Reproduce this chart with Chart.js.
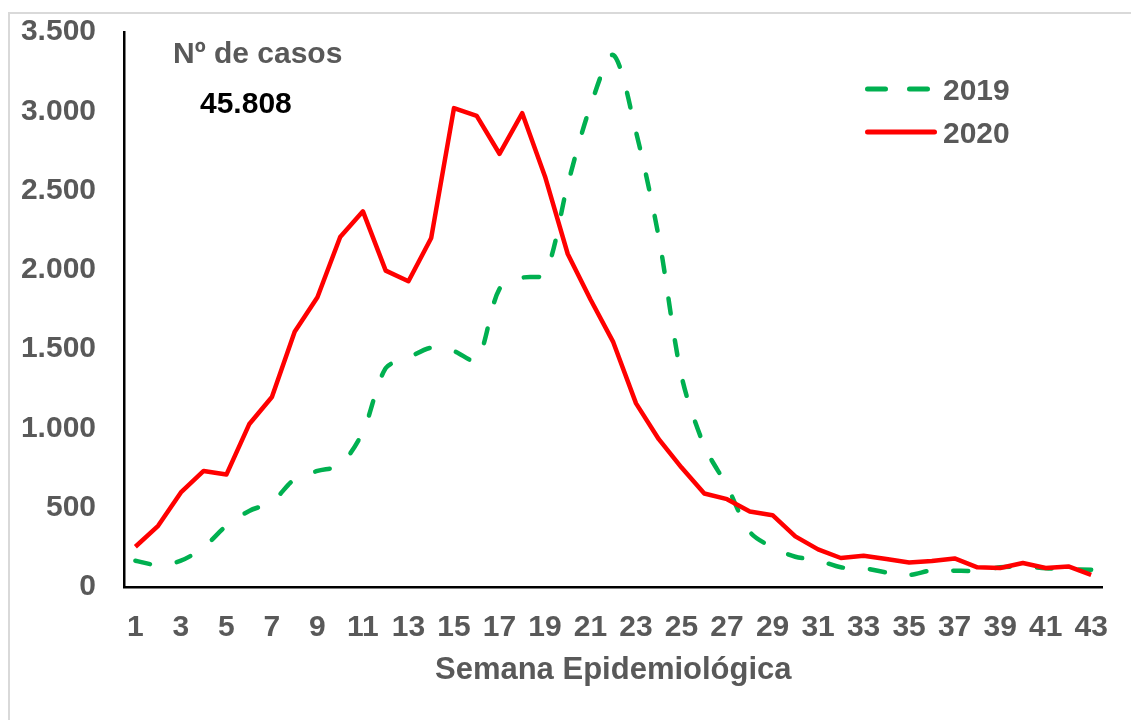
<!DOCTYPE html>
<html>
<head>
<meta charset="utf-8">
<title>Semana Epidemiológica</title>
<script src="https://cdn.jsdelivr.net/npm/chart.js@4.4.1/dist/chart.umd.min.js"></script>
<style>
  html, body { margin: 0; padding: 0; background: #fff; }
  #wrap { position: relative; width: 1131px; height: 720px; overflow: hidden; }
  #frame { position: absolute; left: 8px; top: 12px; width: 1140px; height: 740px; border: 2px solid #d9d9d9; box-sizing: border-box; }
  #chart { position: absolute; left: 0; top: 0; }
</style>
</head>
<body>
<div id="wrap">
  <div id="frame"></div>
  <canvas id="chart" width="1131" height="720"></canvas>
</div>
<script>
// weekly cases
const weeks = [1, 2, 3, 4, 5, 6, 7, 8, 9, 10, 11, 12, 13, 14, 15, 16, 17, 18, 19, 20, 21, 22,
  23, 24, 25, 26, 27, 28, 29, 30, 31, 32, 33, 34, 35, 36, 37, 38, 39, 40, 41, 42, 43]

const cases2019 = [166, 138, 166, 250, 386, 480, 537, 680, 732, 770, 980, 1380, 1446, 1509,
  1487, 1430, 1880, 1950, 1975, 2540, 3034, 3355, 2870, 2205, 1330, 890, 636, 348, 250, 191,
  168, 124, 118, 92, 76, 105, 103, 103, 124, 130, 118, 113, 109]

const cases2020 = [254, 386, 596, 732, 709, 1026, 1198, 1609, 1827, 2207, 2369, 1995, 1928,
  2201, 3020, 2971, 2732, 2988, 2589, 2100, 1813, 1544, 1158, 932, 753, 590, 554, 476, 453,
  319, 237, 183, 197, 176, 155, 164, 180, 124, 120, 151, 120, 130, 76]

const yTickLabels = ['0', '500', '1.000', '1.500', '2.000', '2.500', '3.000', '3.500']
const seriesLabels = ['2019', '2020']
const totalTitle = 'Nº de casos'
const totalValue = '45.808'

const FONT = '"Liberation Sans", Arial, sans-serif'
const gray = '#595959'

// legend + total drawn inside the plot area
const insideText = {
  id: 'insideText',
  afterDraw(chart) {
    const ctx = chart.ctx
    ctx.save()
    ctx.font = 'bold 30px ' + FONT
    ctx.textBaseline = 'alphabetic'
    ctx.fillStyle = gray
    ctx.fillText(totalTitle, 173, 63)
    ctx.fillStyle = '#000'
    ctx.fillText(totalValue, 200, 113)

    chart.data.datasets.forEach((ds, i) => {
      const y = 89 + i * 43
      ctx.strokeStyle = ds.borderColor
      ctx.lineWidth = 5
      ctx.lineCap = 'round'
      ctx.setLineDash(ds.borderDash ? [18, 24] : [])
      ctx.beginPath()
      ctx.moveTo(867.5, y)
      ctx.lineTo(ds.borderDash ? 927.5 : 934.5, y)
      ctx.stroke()
      ctx.setLineDash([])
      ctx.fillStyle = gray
      ctx.fillText(ds.label, 943, y + 11)
    })
    ctx.restore()
  }
}

new Chart(document.getElementById('chart'), {
  type: 'line',
  data: {
    labels: weeks,
    datasets: [
      {
        label: seriesLabels[0],
        data: cases2019,
        borderColor: '#00b050',
        borderWidth: 4.5,
        borderDash: [15, 27],
        borderCapStyle: 'round',
        tension: 0.3,
        pointRadius: 0,
        fill: false,
        order: 1
      },
      {
        label: seriesLabels[1],
        data: cases2020,
        borderColor: '#ff0000',
        borderWidth: 4.5,
        borderJoinStyle: 'round',
        tension: 0,
        pointRadius: 0,
        fill: false,
        order: 0
      }
    ]
  },
  options: {
    responsive: false,
    animation: false,
    layout: { padding: { left: 0, right: 14, top: 32, bottom: 0 } },
    plugins: {
      legend: { display: false },
      tooltip: { enabled: false }
    },
    scales: {
      x: {
        type: 'category',
        offset: true,
        grid: { display: false, drawTicks: false },
        border: { display: true, color: '#000', width: 2.5 },
        ticks: {
          autoSkip: false,
          maxRotation: 0,
          padding: 23,
          color: gray,
          font: { family: FONT, size: 30, weight: 'bold' },
          callback: (val, i) => (i % 2 === 0 ? String(weeks[i]) : '')
        },
        title: {
          display: true,
          text: 'Semana Epidemiológica',
          color: gray,
          font: { family: FONT, size: 31, weight: 'bold' },
          padding: { top: 0, bottom: 31 }
        },
        afterFit: (scale) => { scale.height = 133 }
      },
      y: {
        min: 0,
        max: 3500,
        grid: { display: false, drawTicks: false },
        border: { display: true, color: '#000', width: 2.5 },
        ticks: {
          stepSize: 500,
          padding: 28,
          color: gray,
          font: { family: FONT, size: 30, weight: 'bold' },
          callback: (val) => yTickLabels[val / 500]
        },
        afterFit: (scale) => {
          scale.width = 124
          // tick padding would otherwise push the plot top down
          scale.paddingTop = 0
          scale.paddingBottom = 0
        }
      }
    }
  },
  plugins: [insideText]
})
</script>
</body>
</html>
